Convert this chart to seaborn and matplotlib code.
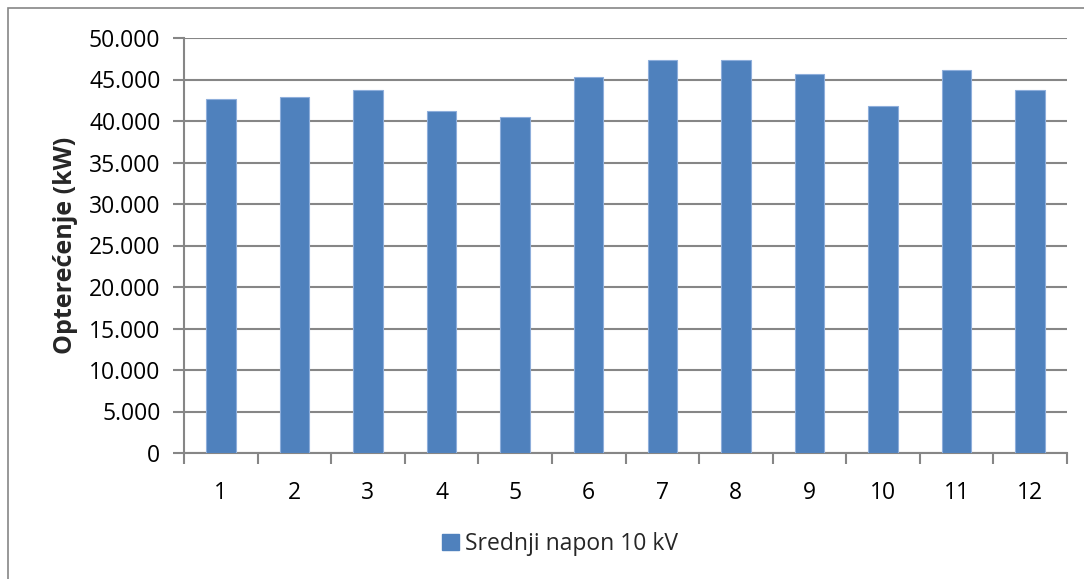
import matplotlib
matplotlib.use('Agg')
import matplotlib.pyplot as plt
import matplotlib.patches as mpatches
from matplotlib.ticker import FuncFormatter, MultipleLocator
import pandas as pd
import seaborn as sns

# data
months = [str(m) for m in range(1, 13)]
load_kw = [42650, 42850, 43700, 41200, 40450, 45300,
           47300, 47400, 45650, 41800, 46100, 43700]
series_name = 'Srednji napon 10 kV'
y_label = 'Opterećenje (kW)'

BAR = '#4F81BD'
GRID = '#868686'

sns.set_theme(style='white')
plt.rcParams['font.family'] = ['Open Sans', 'DejaVu Sans']

df = pd.DataFrame({'month': months, 'load': load_kw})

fig = plt.figure(figsize=(10.84, 5.79), dpi=100)
ax = fig.add_axes([184 / 1084, 1 - 453 / 579, (1067 - 184) / 1084, (453 - 38) / 579])

# outer chart border (only left/top visible in the crop)
fig.patches.append(mpatches.Rectangle((8 / 1084, -0.1), 1.2, 1 - 8 / 579 + 0.1,
                                      transform=fig.transFigure, fill=False,
                                      edgecolor=GRID, linewidth=1.2))

sns.barplot(data=df, x='month', y='load', color=BAR, width=0.4,
            edgecolor='#8EAEDB', linewidth=0.8, saturation=1, ax=ax, zorder=3)

ax.set_xlim(-0.5, 11.5)
ax.set_ylim(0, 50000)
ax.yaxis.set_major_locator(MultipleLocator(5000))
ax.yaxis.set_major_formatter(FuncFormatter(lambda v, p: '0' if v == 0 else f'{v:,.0f}'.replace(',', '.')))
ax.grid(axis='y', color=GRID, linewidth=1.5, zorder=0)
ax.set_axisbelow(True)

for s in ['top', 'right']:
    ax.spines[s].set_visible(False)
for s in ['left', 'bottom']:
    ax.spines[s].set_color(GRID)
    ax.spines[s].set_linewidth(1.5)

ax.tick_params(axis='y', which='major', length=8, width=1.5, color=GRID,
               labelsize=16.5, pad=9, labelcolor='black', left=True)
ax.set_xticks(range(12))
ax.set_xticks([i - 0.5 for i in range(13)], minor=True)
ax.tick_params(axis='x', which='major', length=0, labelsize=16.5, pad=20, labelcolor='black')
ax.tick_params(axis='x', which='minor', length=8, width=1.5, color=GRID, bottom=True)

ax.set_xlabel('')
ax.set_ylabel(y_label, fontsize=18, fontweight='bold', labelpad=8)

handle = mpatches.Patch(color=BAR, label=series_name)
fig.legend(handles=[handle], loc='center', bbox_to_anchor=(560 / 1084, 1 - 544 / 579),
           frameon=False, fontsize=16.5, handlelength=0.75, handleheight=0.75,
           handletextpad=0.25)

fig.savefig('out.png', dpi=100)
